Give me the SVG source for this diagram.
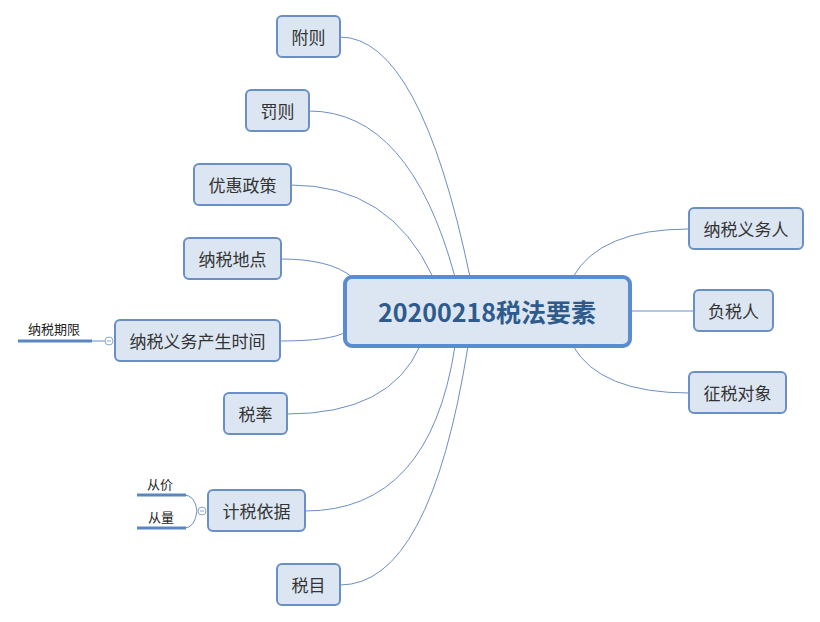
<svg xmlns="http://www.w3.org/2000/svg" width="820" height="622" viewBox="0 0 820 622">
<style>
.n rect{fill:#dce6f2;stroke:#6a8fc6;stroke-width:2}
.n text{font-family:"Noto Sans CJK SC","Liberation Sans",sans-serif;font-size:17px;fill:#333;text-anchor:middle;dominant-baseline:central}
.c path{fill:none;stroke:#6d8ec4;stroke-width:1}
.s text{font-family:"Noto Sans CJK SC","Liberation Sans",sans-serif;font-size:13px;fill:#222;text-anchor:middle;dominant-baseline:central}
.u{stroke:#5b86c4;stroke-width:3;fill:none}
.k{fill:#fff;stroke:#8aa5cf;stroke-width:1}
</style>
<rect width="820" height="622" fill="#fff"/>
<g class="c" id="connectors">
<path d="M340 37 Q420 37 470 277"/>
<path d="M309 111 Q410 111 455 277"/>
<path d="M291 185 Q390 185 433 277"/>
<path d="M281 259 Q330 259 352 277"/>
<path d="M280 341 Q330 341 346 332"/>
<path d="M287 414 Q390 414 420 346"/>
<path d="M305 511 Q430 511 455 346"/>
<path d="M340 585 Q430 585 468 346"/>
<path d="M689 229 Q600 229 573 277"/>
<path d="M694 311 L630 311"/>
<path d="M689 393 Q600 393 573 346"/>
<path d="M92 341 L105 341"/>
<path d="M197 511 Q195 495 184 495"/>
<path d="M197 511 Q195 528 184 528"/>
</g>
<g id="center" class="n">
<rect x="345" y="277" width="285" height="69" rx="7" style="stroke:#5b8bd0;stroke-width:4"/>
<text x="487" y="311" style="font-size:25px;font-weight:bold;fill:#2e5a8c">20200218税法要素</text>
</g>
<g id="n1" class="n"><rect x="277" y="16" width="63" height="41" rx="5"/><text x="308.5" y="36.5">附则</text></g>
<g id="n2" class="n"><rect x="246" y="90" width="63" height="41" rx="5"/><text x="277.5" y="110.5">罚则</text></g>
<g id="n3" class="n"><rect x="194" y="164" width="97" height="41" rx="5"/><text x="242.5" y="184.5">优惠政策</text></g>
<g id="n4" class="n"><rect x="184" y="238" width="97" height="41" rx="5"/><text x="232.5" y="258.5">纳税地点</text></g>
<g id="n5" class="n"><rect x="115" y="320" width="165" height="41" rx="5"/><text x="197.5" y="340.5">纳税义务产生时间</text></g>
<g id="n6" class="n"><rect x="224" y="393" width="63" height="41" rx="5"/><text x="255.5" y="413.5">税率</text></g>
<g id="n7" class="n"><rect x="208" y="490" width="97" height="41" rx="5"/><text x="256.5" y="510.5">计税依据</text></g>
<g id="n8" class="n"><rect x="277" y="564" width="63" height="41" rx="5"/><text x="308.5" y="584.5">税目</text></g>
<g id="n9" class="n"><rect x="689" y="208" width="114" height="41" rx="5"/><text x="746" y="228.5">纳税义务人</text></g>
<g id="n10" class="n"><rect x="694" y="290" width="79" height="41" rx="5"/><text x="733.5" y="310.5">负税人</text></g>
<g id="n11" class="n"><rect x="689" y="372" width="97" height="41" rx="5"/><text x="737.5" y="392.5">征税对象</text></g>
<g id="s1" class="s"><path class="u" d="M18 341 H92"/><text x="54" y="328">纳税期限</text></g>
<g id="s2" class="s"><path class="u" d="M137 495 H186"/><text x="160" y="483">从价</text></g>
<g id="s3" class="s"><path class="u" d="M137 528 H186"/><text x="161" y="516">从量</text></g>
<g id="k1"><circle class="k" cx="109" cy="341" r="4"/><path d="M107 341 H111" stroke="#8aa5cf"/></g>
<g id="k2"><circle class="k" cx="202" cy="511" r="4"/><path d="M200 511 H204" stroke="#8aa5cf"/></g>
</svg>
